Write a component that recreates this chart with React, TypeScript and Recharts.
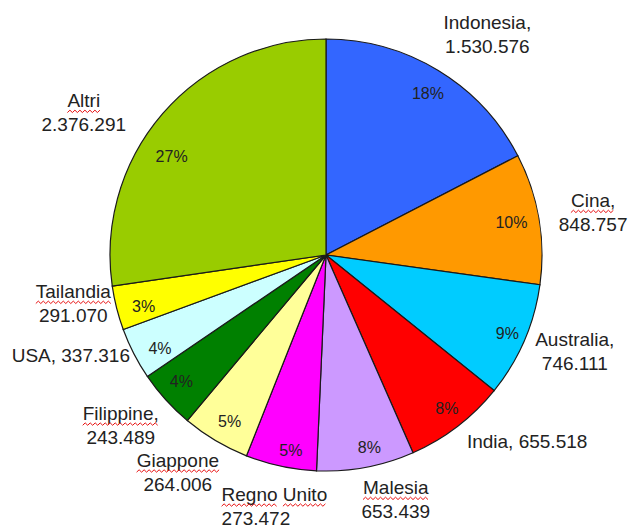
import React from 'react';
import { PieChart, Pie, Cell } from 'recharts';

const COUNTRIES = ['Indonesia', 'Cina', 'Australia', 'India', 'Malesia', 'Regno Unito', 'Giappone', 'Filippine', 'USA', 'Tailandia', 'Altri'];
const AMOUNTS = [1530576, 848757, 746111, 655518, 653439, 273472, 264006, 243489, 337316, 291070, 2376291];
// slice sizes as drawn (read from the slice angles, not from the amounts)
const SHARES = [17.4, 9.8, 8.6, 7.6, 7.3, 5.3, 5.1, 4.4, 3.9, 3.3, 27.3];
const PCT_LABELS = ['18%', '10%', '9%', '8%', '8%', '5%', '5%', '4%', '4%', '3%', '27%'];

const COLORS = ['#3366FF', '#FF9900', '#00CCFF', '#FF0000', '#CC99FF', '#FF00FF', '#FFFF99', '#008000', '#CCFFFF', '#FFFF00', '#99CC00'];

// label layout: separator between name and amount, nudges, alignment, spell-check squiggle
const SEP = [',\n', ',\n', ',\n', ', ', '\n', '\n', '\n', ',\n', ', ', '\n', '\n'];
const NAME_NUDGE: [number, number][] = [[21, 10], [1, 3], [1, -11], [37, -28], [20, -21], [-48, -13], [-10, -15], [-5, -11], [-15, -23], [9, -18], [-38, 34]];
const ALIGN = ['middle', 'middle', 'middle', 'middle', 'middle', 'start', 'middle', 'middle', 'middle', 'middle', 'middle'];
const SQUIGGLE = [false, true, false, false, true, true, true, true, false, true, true];
const PCT_NUDGE: [number, number][] = [[2, 3], [-4, 0], [5, 2], [4, 1], [8, 4], [5, 8], [2, 1], [-2, -2], [5, 6], [4, 4], [-9, 27]];

const CX = 326;
const CY = 255;
const R = 216;
const RAD = Math.PI / 180;
const FONT = '"Liberation Sans", Arial, sans-serif';
const LABEL_SIZE = 19;
const INK = '#222';

const fmt = (n: number) => String(n).replace(/\B(?=(\d{3})+(?!\d))/g, '.');

let ctx: CanvasRenderingContext2D | null = null;
const measure = (s: string) => {
  if (!ctx && typeof document !== 'undefined') ctx = document.createElement('canvas').getContext('2d');
  if (!ctx) return s.length * LABEL_SIZE * 0.55;
  ctx.font = `${LABEL_SIZE}px ${FONT}`;
  return ctx.measureText(s).width;
};

// red spell-check zigzag under each word
const squiggle = (text: string, x: number, anchor: string, baseline: number) => {
  const full = measure(text);
  const x0 = anchor === 'start' ? x : x - full / 2;
  const y = baseline + 4;
  const parts: string[] = [];
  let offset = 0;
  text.split(' ').forEach((w, wi) => {
    if (wi > 0) offset += measure(' ');
    const ww = measure(w);
    const start = x0 + offset;
    let d = `M${start.toFixed(1)},${y + 1.2}`;
    let up = true;
    for (let sx = start + 2.5; sx <= start + ww + 0.1; sx += 2.5) {
      d += ` L${sx.toFixed(1)},${up ? y - 1.2 : y + 1.2}`;
      up = !up;
    }
    parts.push(d);
    offset += ww;
  });
  return parts;
};

const data = COUNTRIES.map((c, i) => ({ name: c, share: SHARES[i], amount: AMOUNTS[i] }));

const renderLabel = (p: any) => {
  const { midAngle, index } = p;
  const a = -midAngle * RAD;

  const pr = R * 0.89;
  const px = CX + pr * Math.cos(a) + PCT_NUDGE[index][0];
  const py = CY + pr * Math.sin(a) + PCT_NUDGE[index][1];

  const lr = R + 54;
  const lx = CX + lr * Math.cos(a) + NAME_NUDGE[index][0];
  const ly = CY + lr * Math.sin(a) + NAME_NUDGE[index][1];

  const sep = SEP[index];
  const twoLines = sep.includes('\n');
  const first = twoLines ? COUNTRIES[index] + sep.replace('\n', '') : COUNTRIES[index] + sep + fmt(AMOUNTS[index]);
  const anchor = ALIGN[index];
  const b1 = twoLines ? ly - 5 : ly + 7;

  return (
    <g key={`lbl-${index}`}>
      <text x={px} y={py} textAnchor="middle" dominantBaseline="central" fontSize={16} fill={INK} fontFamily={FONT}>
        {PCT_LABELS[index]}
      </text>
      <text x={lx} y={b1} textAnchor={anchor as any} fontSize={LABEL_SIZE} fontFamily={FONT} fill={INK}>
        {first}
      </text>
      {SQUIGGLE[index] &&
        squiggle(first, lx, anchor, b1).map((d, k) => (
          <path key={k} d={d} fill="none" stroke="#e81010" strokeWidth={1} />
        ))}
      {twoLines && (
        <text x={lx} y={b1 + 24} textAnchor={anchor as any} fontSize={LABEL_SIZE} fill={INK} fontFamily={FONT}>
          {fmt(AMOUNTS[index])}
        </text>
      )}
    </g>
  );
};

export default function App() {
  return (
    <div style={{ position: 'absolute', left: 0, top: 0, width: 629, height: 529, background: '#fff' }}>
      <PieChart width={629} height={529} margin={{ top: 0, right: 0, bottom: 0, left: 0 }}>
        <Pie
          data={data}
          dataKey="share"
          nameKey="name"
          cx={CX}
          cy={CY}
          outerRadius={R}
          startAngle={90}
          endAngle={-270}
          stroke="#1a1a1a"
          strokeWidth={1.2}
          label={renderLabel}
          labelLine={false}
          isAnimationActive={false}
        >
          {data.map((d, i) => (
            <Cell key={d.name} fill={COLORS[i]} />
          ))}
        </Pie>
      </PieChart>
    </div>
  );
}
